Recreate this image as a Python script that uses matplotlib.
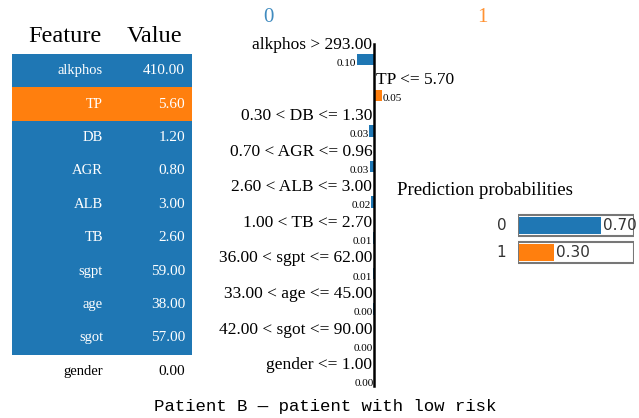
import matplotlib.pyplot as plt
import numpy as np

features = ["alkphos", "TP", "DB", "AGR", "ALB", "TB", "sgpt", "age", "sgot", "gender"]
values = [410.00, 5.60, 1.20, 0.80, 3.00, 2.60, 59.00, 38.00, 57.00, 0.00]
rules = ["alkphos > 293.00", "TP <= 5.70", "0.30 < DB <= 1.30", "0.70 < AGR <= 0.96",
         "2.60 < ALB <= 3.00", "1.00 < TB <= 2.70", "36.00 < sgpt <= 62.00",
         "33.00 < age <= 45.00", "42.00 < sgot <= 90.00", "gender <= 1.00"]
weights = [-0.100, 0.048, -0.028, -0.025, -0.017, -0.008, -0.006, -0.003, -0.002, 0.0]
classes = ["0", "1"]
probs = [0.70, 0.30]

BLUE = "#1f77b4"
ORANGE = "#ff7f0e"
SERIF = "Liberation Serif"
W, H = 639, 418

fig = plt.figure(figsize=(W / 100, H / 100), dpi=100)


def px_axes(x, y, w, h):
    # axes placed in pixel coords (top-left origin)
    ax = fig.add_axes([x / W, 1 - (y + h) / H, w / W, h / H])
    ax.set_axis_off()
    return ax


def row_color(w):
    if w < 0:
        return BLUE
    if w > 0:
        return ORANGE
    return "white"


# --- feature / value table ---
n = len(features)
tab = px_axes(12, 54, 180, 334)
tab.set_xlim(0, 180)
tab.set_ylim(n - 0.5, -0.5)
colors = [row_color(w) for w in weights]
tab.barh(np.arange(n), 180, height=1.0, left=0, color=colors, edgecolor="none")
for i, (f, v) in enumerate(zip(features, values)):
    tc = "white" if weights[i] != 0 else "black"
    tab.text(91, i, f, ha="right", va="center", color=tc, fontsize=10.5, family=SERIF)
    tab.text(173, i, f"{v:.2f}", ha="right", va="center", color=tc, fontsize=11,
             family=SERIF)
fig.text(65 / W, 1 - 36 / H, "Feature", ha="center", va="center", fontsize=17.5,
         family=SERIF)
fig.text(155 / W, 1 - 36 / H, "Value", ha="center", va="center", fontsize=17.5,
         family=SERIF)

# --- explanation bars ---
scale = 170.0  # px per unit weight
x0, ax_px = 210, 374
ex = px_axes(x0, 40, 330, 360)
ex.set_xlim(-(ax_px - x0) / scale, (x0 + 330 - ax_px) / scale)
ex.set_ylim(9.55, -0.55)
ypos = np.arange(n)
ex.barh(ypos, weights, height=0.32, color=[row_color(w) for w in weights])
ex.plot([0, 0], [-0.45, 9.15], color="black", lw=1.8)
for i, (r, w) in enumerate(zip(rules, weights)):
    if w <= 0:
        ex.text(-0.01, i - 0.42, r, ha="right", va="center", fontsize=12.5, family=SERIF)
        ex.text(w - 0.003, i + 0.1, f"{abs(w):.2f}", ha="right", va="center",
                fontsize=8, family=SERIF)
    else:
        ex.text(0.012, i - 0.42, r, ha="left", va="center", fontsize=12.5, family=SERIF)
        ex.text(w + 0.003, i + 0.1, f"{abs(w):.2f}", ha="left", va="center",
                fontsize=8, family=SERIF)
fig.text(268 / W, 1 - 18 / H, classes[0], ha="center", va="center", fontsize=15,
         family=SERIF, color=BLUE, alpha=0.85)
fig.text(482 / W, 1 - 18 / H, classes[1], ha="center", va="center", fontsize=15,
         family=SERIF, color=ORANGE, alpha=0.85)

# --- prediction probabilities ---
fig.text(397 / W, 1 - 190 / H, "Prediction probabilities", ha="left", va="center",
         fontsize=13.5, family=SERIF)
pr = px_axes(518, 212, 116, 54)
pr.set_xlim(0, 1)
pr.set_ylim(1.5, -0.5)
pr.barh([0, 1], [1, 1], height=0.78, color="white", edgecolor="#777777", lw=1.5)
pr.barh([0, 1], probs, height=0.66, left=0.012, color=[BLUE, ORANGE])
for i, (c, p) in enumerate(zip(classes, probs)):
    pr.text(-0.1, i, c, ha="right", va="center", fontsize=11, color="#333333")
    pr.text(p + 0.03, i, f"{p:.2f}", ha="left", va="center", fontsize=11,
            color="#333333", clip_on=False)

fig.text(325 / W, 1 - 406 / H, "Patient B \u2014 patient with low risk", ha="center",
         va="center", fontsize=12.5, family="Liberation Mono")

fig.savefig("out.png", dpi=100)
